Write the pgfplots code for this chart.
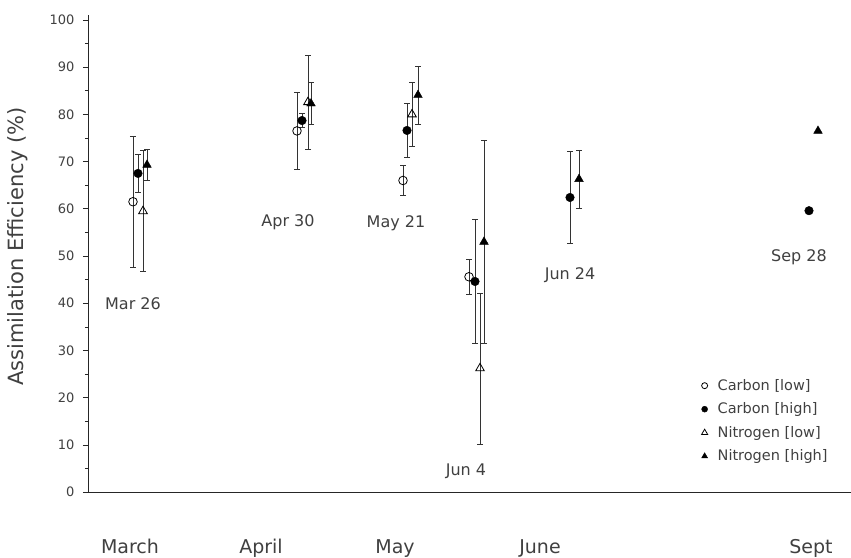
\documentclass[border=0pt]{standalone}
\usepackage{fontspec}
\setmainfont{DejaVu Sans}
\usepackage{pgfplots}
\pgfplotsset{compat=1.18}
\definecolor{txt}{gray}{0.25}
\definecolor{bar}{gray}{0.2}
\begin{document}
\begin{tikzpicture}
\path[use as bounding box] (-88pt,-65pt) rectangle (763pt,492pt);
\begin{axis}[
  at={(0pt,0pt)}, anchor=south west,
  x=1pt, y=4.72pt,
  xmin=88, xmax=851, ymin=0, ymax=101,
  axis x line*=bottom, axis y line*=left,
  axis line style={line width=0.8pt, black!85},
  clip=false,
  ytick={0,10,...,100}, minor y tick num=1,
  tick align=outside, major tick length=5pt, minor tick length=3pt,
  tick style={black!85, line width=0.6pt},
  xtick={130,261,395,540,811},
  xticklabels={March,April,May,June,Sept},
  x tick style={draw=none},
  xticklabel style={font=\fontsize{19}{22}\selectfont, text=txt, anchor=base, yshift=-56pt},
  yticklabel style={font=\fontsize{13}{15}\selectfont, text=txt, xshift=-5pt},
  /pgf/number format/assume math mode=true,
  ylabel={Assimilation Efficiency (\%)},
  ylabel style={at={(axis description cs:-0.0917,0.515)}, anchor=center, font=\fontsize{21}{24}\selectfont, text=txt},
  legend style={at={(0.80,0.245)}, anchor=north west, draw=none, fill=none,
    font=\fontsize{14.5}{16}\selectfont, text=txt, row sep=7pt,
    /tikz/every odd column/.append style={column sep=8pt}},
  legend cell align=left,
  legend image post style={scale=0.7},
  error bars/y dir=both, error bars/y explicit,
  error bars/error mark=-,
  error bars/error mark options={rotate=90, mark size=3pt, line width=0.6pt, bar},
  error bars/error bar style={line width=0.7pt, bar},
]
% Carbon [low]
\addplot[only marks, mark=o, mark size=4.3pt, mark options={fill=white, black, line width=0.8pt}]
  table[x=x, y=y, y error=e] {
x y e
133 61.5 13.9
297 76.5 8.1
403 66.0 3.2
469 45.6 3.7
};
\addlegendentry{Carbon [low]}
% Carbon [high]
\addplot[only marks, mark=*, mark size=4.3pt, mark options={fill=black, black}]
  table[x=x, y=y, y error=e] {
x y e
138 67.5 4.0
302 78.7 1.5
407 76.6 5.7
475 44.6 13.2
570 62.4 9.7
};
\addlegendentry{Carbon [high]}
% Nitrogen [low]
\addplot[only marks, mark=triangle, mark size=5pt, mark options={fill=white, black, line width=0.8pt}]
  table[x=x, y=y, y error=e] {
x y e
143 59.5 12.8
308 82.6 10.0
412 80.0 6.8
480 26.2 16.0
};
\addlegendentry{Nitrogen [low]}
% Nitrogen [high]
\addplot[only marks, mark=triangle*, mark size=5pt, mark options={fill=black, black}]
  table[x=x, y=y, y error=e] {
x y e
147 69.3 3.2
311 82.3 4.4
418 84.1 6.1
484 53.0 21.6
579 66.3 6.1
};
\addlegendentry{Nitrogen [high]}
% Sep 28 (no error bars)
\addplot[only marks, mark=*, mark size=4.3pt, mark options={fill=black, black}, error bars/y dir=none, forget plot]
  coordinates {(809,59.6)};
\addplot[only marks, mark=triangle*, mark size=5pt, mark options={fill=black, black}, error bars/y dir=none, forget plot]
  coordinates {(818,76.5)};
% date labels
\node[font=\fontsize{16}{18}\selectfont, text=txt] at (axis cs:133,40.0) {Mar 26};
\node[font=\fontsize{16}{18}\selectfont, text=txt] at (axis cs:288,57.2) {Apr 30};
\node[font=\fontsize{16}{18}\selectfont, text=txt] at (axis cs:396,57.0) {May 21};
\node[font=\fontsize{16}{18}\selectfont, text=txt] at (axis cs:466,4.4) {Jun 4};
\node[font=\fontsize{16}{18}\selectfont, text=txt] at (axis cs:570,46.0) {Jun 24};
\node[font=\fontsize{16}{18}\selectfont, text=txt] at (axis cs:799,49.8) {Sep 28};
\end{axis}
\end{tikzpicture}
\end{document}
